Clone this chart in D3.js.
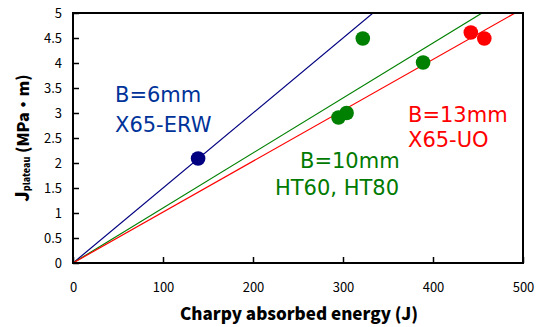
<!DOCTYPE html>
<html>
<head>
<meta charset="utf-8">
<script src="https://cdn.jsdelivr.net/npm/d3@7"></script>
<style>
  body { margin: 0; background: #fff; }
  .tick text { font-family: "Noto Sans CJK JP", "Liberation Sans", sans-serif; font-size: 13px; fill: #000; }
  .lbl { font-family: "DejaVu Sans", sans-serif; font-size: 21px; }
  .axtitle { font-family: "Noto Sans CJK JP", sans-serif; font-weight: 900; }
</style>
</head>
<body>
<div id="chart"></div>
<script>
// data
const seriesNames = ["B=6mm", "B=10mm", "B=13mm"];
const seriesColors = ["#000080", "#008000", "#ff0000"];
const labelColors = ["#003399", "#007a00", "#ff0000"];
// slope of each fit line (MPa·m per J)
const slopes = [0.01500, 0.01100, 0.01018];
const energy6 = [139];
const jval6 = [2.09];
const energy10 = [322, 295, 304, 389];
const jval10 = [4.49, 2.91, 3.0, 4.01];
const energy13 = [442, 457];
const jval13 = [4.61, 4.49];
const xTicks = [0, 100, 200, 300, 400, 500];
const yTicks = [0, 0.5, 1, 1.5, 2, 2.5, 3, 3.5, 4, 4.5, 5];

const width = 541, height = 327;
const margin = {top: 13, right: 18, bottom: 64, left: 73};
const w = width - margin.left - margin.right;
const h = height - margin.top - margin.bottom;

const svg = d3.select("#chart").append("svg")
    .attr("width", width)
    .attr("height", height);
const g = svg.append("g")
    .attr("transform", `translate(${margin.left},${margin.top})`);

const x = d3.scaleLinear().domain([0, 500]).range([0, w]);
const y = d3.scaleLinear().domain([0, 5]).range([h, 0]);

// clip fit lines to plot box
svg.append("defs").append("clipPath").attr("id", "clip")
    .append("rect").attr("width", w).attr("height", h);

// axes, ticks pointing inward
const xAxis = g.append("g")
    .attr("transform", `translate(0,${h})`)
    .call(d3.axisBottom(x).tickValues(xTicks).tickSize(-6).tickPadding(20).tickFormat(d3.format("d")));
const yAxis = g.append("g")
    .call(d3.axisLeft(y).tickValues(yTicks).tickSize(-6).tickPadding(11).tickFormat(d => d));
[xAxis, yAxis].forEach(a => {
    a.select(".domain").remove();
    a.selectAll(".tick line").attr("stroke", "#000").attr("stroke-width", 1.5);
});

// fit lines
const lines = g.append("g").attr("clip-path", "url(#clip)");
slopes.forEach((s, i) => {
    lines.append("line")
        .attr("x1", x(0)).attr("y1", y(0))
        .attr("x2", x(500)).attr("y2", y(500 * s))
        .attr("stroke", seriesColors[i])
        .attr("stroke-width", 1.2);
});

// frame
g.append("rect")
    .attr("width", w).attr("height", h)
    .attr("fill", "none")
    .attr("stroke", "#000")
    .attr("stroke-width", 2);

// points
const pts = [
    {ex: energy6, jy: jval6, c: seriesColors[0]},
    {ex: energy10, jy: jval10, c: seriesColors[1]},
    {ex: energy13, jy: jval13, c: seriesColors[2]}
];
pts.forEach(p => {
    g.selectAll(null)
        .data(p.ex)
        .enter().append("circle")
        .attr("cx", d => x(d))
        .attr("cy", (d, i) => y(p.jy[i]))
        .attr("r", 7.3)
        .attr("fill", p.c);
});

// series labels, two lines each
const labels = [
    {lines: [seriesNames[0], "X65-ERW"], px: [115, 115], py: 102, dy: 30},
    {lines: [seriesNames[1], "HT60, HT80"], px: [300, 275], py: 168, dy: 27},
    {lines: [seriesNames[2], "X65-UO"], px: [408, 408], py: 122, dy: 25}
];
labels.forEach((l, i) => {
    const t = svg.append("text")
        .attr("class", "lbl")
        .attr("y", l.py)
        .attr("fill", labelColors[i]);
    l.lines.forEach((s, j) => {
        t.append("tspan")
            .attr("x", l.px[j])
            .attr("dy", j === 0 ? 0 : l.dy)
            .text(s);
    });
});

// axis titles
svg.append("text")
    .attr("class", "axtitle")
    .attr("x", 299).attr("y", 320)
    .attr("font-size", "17px")
    .attr("text-anchor", "middle")
    .text("Charpy absorbed energy (J)");

const yt = svg.append("text")
    .attr("class", "axtitle")
    .attr("font-size", "16px")
    .attr("transform", "translate(29,138) rotate(-90)")
    .attr("text-anchor", "middle");
yt.append("tspan").attr("font-size", "18px").text("J");
yt.append("tspan").attr("font-size", "9px").attr("dy", 1).text("plateau");
yt.append("tspan").attr("dy", -1).text(" (MPa・m)");
</script>
</body>
</html>
